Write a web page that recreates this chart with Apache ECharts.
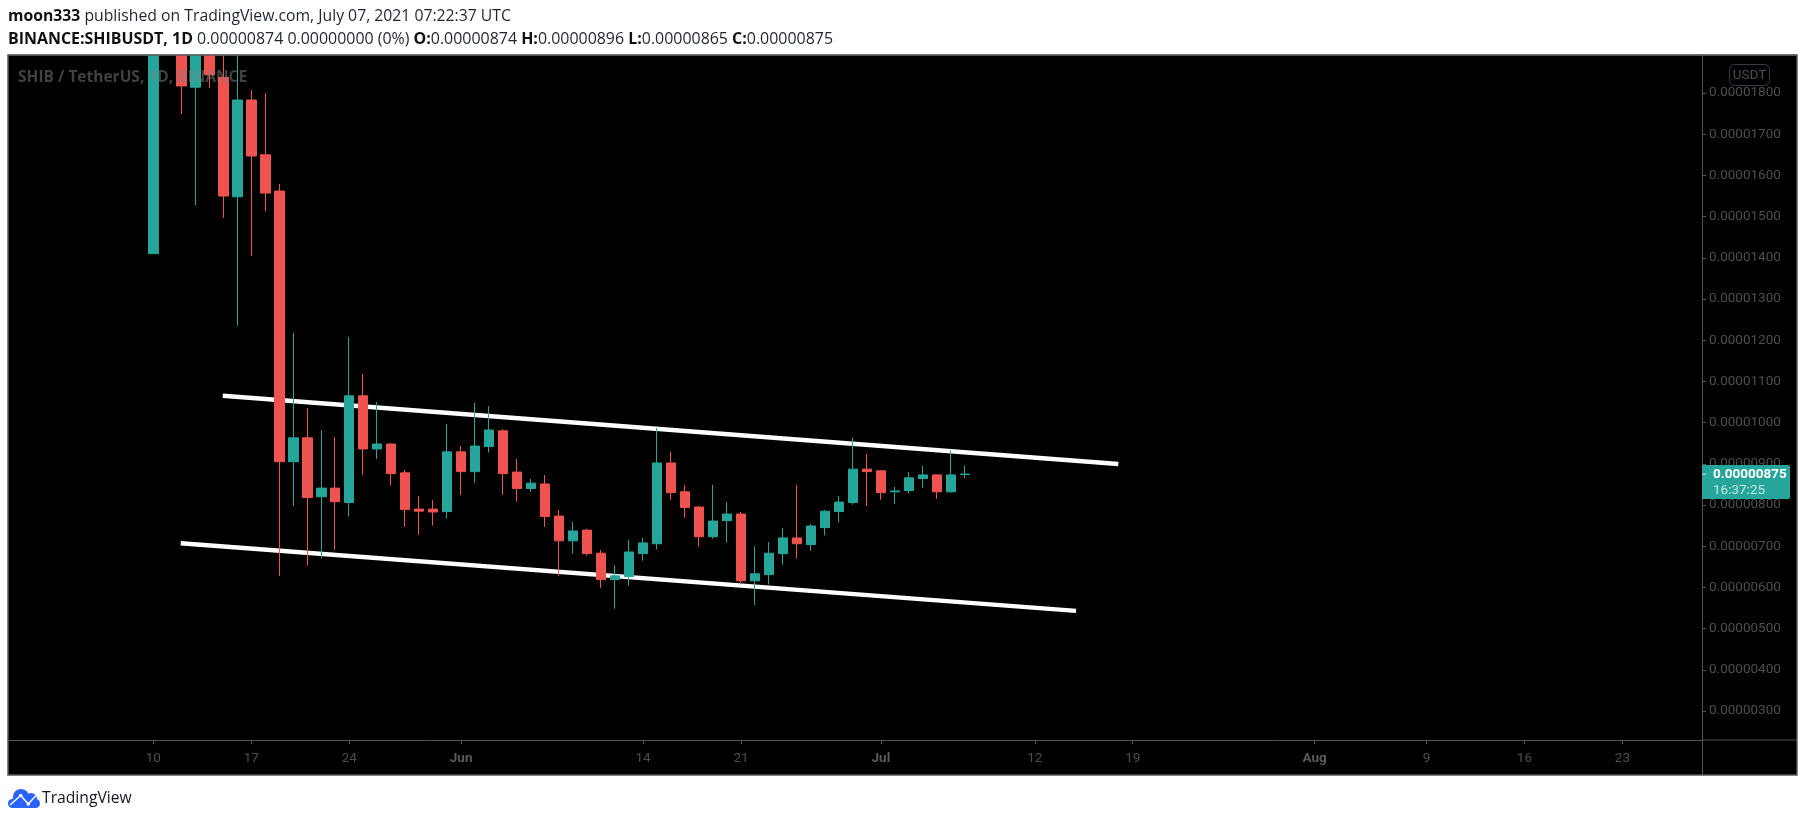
<!DOCTYPE html>
<html>
<head>
<meta charset="utf-8">
<style>html,body{margin:0;padding:0;background:#fff}#c{width:1805px;height:822px}</style>
<script src="https://cdn.jsdelivr.net/npm/echarts@6/dist/echarts.min.js"></script>
</head>
<body>
<div id="c"></div>
<script>
// prices are in units of 0.00000001 USDT; one candle per day starting 2021-05-10
var firstDay = '2021-05-10';
var opens  = [1410,2100,2350,1814,2100,1838,1548,1783,1650,1562,905,963,820,841,806,1065,936,948,878,790,790,784,929,881,942,980,880,840,851,773,713,739,683,619,626,682,706,902,832,795,723,762,778,616,631,682,720,704,745,784,806,887,883,832,835,864,873,832,874];
var closes = [2100,2350,1817,2100,1844,1550,1783,1647,1557,905,963,818,841,808,1065,936,948,876,789,785,783,929,881,943,982,876,840,853,772,713,737,682,619,628,686,708,902,830,794,723,761,778,616,633,683,720,706,749,785,807,887,881,830,834,866,873,832,873,875];
var lows   = [1410,2000,1749,1527,1812,1497,1235,1404,1513,628,798,653,670,691,772,873,912,847,747,728,750,767,824,854,927,825,808,832,747,628,682,677,599,548,604,665,692,813,769,699,718,709,607,558,607,655,670,689,726,757,801,798,813,803,828,842,815,830,865];
var highs  = [2200,2500,2400,2200,2150,2000,2100,1807,1800,1579,1218,1035,982,965,1208,1118,1050,950,885,822,812,997,943,1048,1040,984,912,863,873,788,759,742,691,654,715,720,987,929,849,798,849,807,783,700,710,744,849,754,788,822,963,924,884,844,880,895,873,933,896];
// hand-drawn channel lines: [day offset from firstDay, price]
var upperLine = [[4.96,1065],[68.97,899.5]];
var lowerLine = [[1.955,707],[65.95,543]];
var dayTicks = ['2021-05-10','2021-05-17','2021-05-24','2021-06-01','2021-06-14','2021-06-21','2021-07-01','2021-07-12','2021-07-19','2021-08-01','2021-08-09','2021-08-16','2021-08-23'];
var priceTicks = [300,400,500,600,700,800,900,1000,1100,1200,1300,1400,1500,1600,1700,1800];
var lastPrice = 875;
var monthNames = {5:'May',6:'Jun',7:'Jul',8:'Aug'};

var DAY = 86400000;
var t0 = Date.parse(firstDay + 'T00:00:00Z');
var candles = opens.map(function(o,i){ return [i, o, closes[i], lows[i], highs[i]]; });
var tickDays = dayTicks.map(function(d){ return (Date.parse(d + 'T00:00:00Z') - t0) / DAY; });

var font = '"Open Sans", "Noto Sans", sans-serif';
var chart = echarts.init(document.getElementById('c'), null, {renderer:'canvas'});

var option = {
  animation:false,
  backgroundColor:'#ffffff',
  grid:{left:8, top:55, right:103, bottom:82, containLabel:false, show:false},
  xAxis:{
    type:'value',
    min:-10.39, max:110.69,
    splitLine:{show:false},
    axisLine:{show:true,onZero:false,lineStyle:{color:'#555555',width:1}},
    axisTick:{show:true,length:4,lineStyle:{color:'#555555'},customValues:tickDays},
    axisLabel:{
      customValues:tickDays, margin:12, color:'#4e4e4e', fontFamily:'Roboto', fontSize:13.5, hideOverlap:false, showMinLabel:true, showMaxLabel:true,
      rich:{m:{color:'#5a5a5a',fontFamily:'Roboto',fontSize:13.5,fontWeight:'bold'}},
      formatter:function(v){
        var d=new Date(t0 + v*DAY);
        return d.getUTCDate()===1 ? '{m|'+monthNames[d.getUTCMonth()+1]+'}' : String(d.getUTCDate());
      }
    }
  },
  yAxis:{
    type:'value', position:'right', scale:true,
    min:229.6, max:1892.2,
    splitLine:{show:false},
    axisLine:{show:true,onZero:false,lineStyle:{color:'#555555',width:1}},
    axisTick:{show:true,length:4,lineStyle:{color:'#555555'},customValues:priceTicks},
    axisLabel:{
      customValues:priceTicks, margin:7, color:'#4e4e4e', fontFamily:'Roboto', fontSize:13.5, padding:[3,0,0,0],
      formatter:function(v){ return (v/1e8).toFixed(8); }
    }
  },
  series:[
    {type:'line',name:'upper',z:1,symbol:'none',silent:true,lineStyle:{color:'#ffffff',width:4.5},data:upperLine},
    {type:'line',name:'lower',z:1,symbol:'none',silent:true,lineStyle:{color:'#ffffff',width:4.5},data:lowerLine},
    {type:'candlestick',name:'SHIBUSDT',z:3,barWidth:10,clip:true,
     itemStyle:{color:'#26a69a',color0:'#ef5350',borderColor:'#26a69a',borderColor0:'#ef5350',borderColorDoji:'#26a69a',borderWidth:1},
     data:candles}
  ]
};
chart.setOption(option);

var tagY = chart.convertToPixel({yAxisIndex:0}, lastPrice);
var axisX = 1702;
var bold = {fontWeight:'bold',fontFamily:font,fill:'#111111',verticalAlign:'middle'};
chart.setOption({graphic:[
  // chart panel
  {type:'rect',z:-5,silent:true,shape:{x:8,y:55,width:1789,height:720},style:{fill:'#000000',stroke:'#5a5a5a',lineWidth:1.5}},
  {type:'line',z:1,silent:true,shape:{x1:axisX,y1:740,x2:1797,y2:740},style:{stroke:'#555555',lineWidth:1}},
  {type:'line',z:1,silent:true,shape:{x1:axisX+0.5,y1:740,x2:axisX+0.5,y2:775},style:{stroke:'#555555',lineWidth:1}},
  // white header band keeps off-scale candles inside the panel
  {type:'rect',z:5,silent:true,shape:{x:0,y:0,width:1805,height:54.5},style:{fill:'#ffffff'}},
  {type:'line',z:6,silent:true,shape:{x1:7.5,y1:55,x2:1797.5,y2:55},style:{stroke:'#5a5a5a',lineWidth:1.5}},
  // header
  {type:'text',z:10,silent:true,x:8,y:17,style:{
    text:'{b|moon333} published on TradingView.com, July 07, 2021 07:22:37 UTC',
    font:'15.75px '+font,fill:'#1f2430',verticalAlign:'middle',
    rich:{b:Object.assign({fontSize:15.75},bold)}}},
  {type:'text',z:10,silent:true,x:8,y:39,style:{
    text:'{b|BINANCE:SHIBUSDT, 1D} 0.00000874 0.00000000 (0%) {b|O:}0.00000874 {b|H:}0.00000896 {b|L:}0.00000865 {b|C:}0.00000875',
    font:'15.95px '+font,fill:'#1f2430',verticalAlign:'middle',
    rich:{b:Object.assign({fontSize:15.95},bold)}}},
  // watermark
  {type:'text',z:20,silent:true,x:18,y:78,style:{text:'SHIB / TetherUS, 1D, BINANCE',font:'bold 15.5px '+font,fill:'rgba(130,130,130,0.5)',verticalAlign:'middle'}},
  // currency badge
  {type:'rect',z:20,silent:true,shape:{x:1729.5,y:64.5,width:40,height:21,r:5},style:{fill:'#000000',stroke:'#363a45',lineWidth:1}},
  {type:'text',z:21,silent:true,x:1749.5,y:75.5,style:{text:'USDT',font:'13.5px Roboto',fill:'#4e4e4e',align:'center',verticalAlign:'middle'}},
  // last price tag
  {type:'rect',z:30,silent:true,shape:{x:axisX,y:tagY-9,width:88,height:34,r:[0,2,2,0]},style:{fill:'#26a69a'}},
  {type:'line',z:31,silent:true,shape:{x1:axisX,y1:tagY,x2:axisX+4,y2:tagY},style:{stroke:'#cdeae7',lineWidth:1}},
  {type:'text',z:31,silent:true,x:1713,y:tagY+1,style:{text:(lastPrice/1e8).toFixed(8),font:'bold 13.5px Roboto',fill:'#ffffff',verticalAlign:'middle'}},
  {type:'text',z:31,silent:true,x:1713,y:tagY+17,style:{text:'16:37:25',font:'13.5px Roboto',fill:'#c4e7e3',verticalAlign:'middle'}},
  // TradingView logo
  {type:'circle',z:10,silent:true,shape:{cx:21,cy:797,r:8},style:{fill:'#2962ff'}},
  {type:'circle',z:10,silent:true,shape:{cx:31,cy:799,r:6},style:{fill:'#2962ff'}},
  {type:'circle',z:10,silent:true,shape:{cx:35.5,cy:803.5,r:4.5},style:{fill:'#2962ff'}},
  {type:'circle',z:10,silent:true,shape:{cx:12.5,cy:803.5,r:4.5},style:{fill:'#2962ff'}},
  {type:'rect',z:10,silent:true,shape:{x:12.5,y:798,width:23,height:10},style:{fill:'#2962ff'}},
  {type:'polyline',z:11,silent:true,shape:{points:[[10,805],[20.7,795.5],[28.3,804],[36,795.5]]},style:{stroke:'#ffffff',lineWidth:1.5,fill:null}},
  {type:'circle',z:11,silent:true,shape:{cx:20.7,cy:795.5,r:1.8},style:{fill:'#ffffff'}},
  {type:'circle',z:11,silent:true,shape:{cx:28.3,cy:804,r:1.8},style:{fill:'#ffffff'}},
  {type:'text',z:10,silent:true,x:42,y:799,style:{text:'TradingView',font:'15.7px '+font,fill:'#131722',verticalAlign:'middle'}}
]});
</script>
</body>
</html>
